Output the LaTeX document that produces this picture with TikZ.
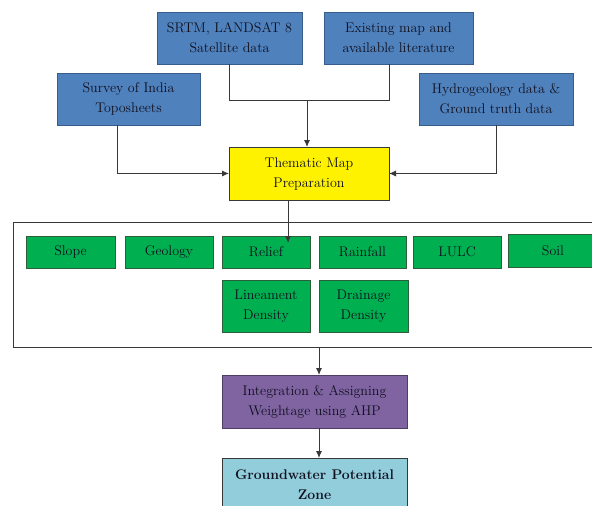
\documentclass[tikz,border=0pt]{standalone}
\usetikzlibrary{arrows.meta}
\definecolor{bluefill}{HTML}{4F81BD}
\definecolor{blueline}{HTML}{385D8A}
\definecolor{greenfill}{HTML}{00B050}
\definecolor{greenline}{HTML}{2B5E3A}
\definecolor{purplefill}{HTML}{8064A2}
\definecolor{purpleline}{HTML}{4F3D66}
\definecolor{aquafill}{HTML}{92CDDC}
\definecolor{darkline}{HTML}{383838}
\definecolor{txt}{HTML}{10101E}
\begin{document}
\begin{tikzpicture}[x=1pt,y=-1pt,
  every node/.style={font=\fontsize{14}{20}\selectfont, text=txt, align=center, inner sep=0pt, outer sep=0pt},
  bluebox/.style={draw=blueline, fill=bluefill, line width=1pt, minimum height=52},
  greenbox/.style={draw=greenline, fill=greenfill, line width=1pt, minimum height=32, minimum width=88},
  conn/.style={draw=darkline, line width=0.9pt},
  arr/.style={conn, -{Latex[length=7pt,width=6pt]}}
]
\useasboundingbox (0,0) rectangle (592,506);
\clip (0,0) rectangle (592,506);

% top sources
\node[bluebox, minimum width=145] (srtm) at (229.5,38) {SRTM, LANDSAT 8\\Satellite data};
\node[bluebox, minimum width=149] (exist) at (398.5,38) {Existing map and\\available literature};
\node[bluebox, minimum width=143] (survey) at (128.5,99) {Survey of India\\Toposheets};
\node[bluebox, minimum width=154] (hydro) at (496,99) {Hydrogeology data \&\\Ground truth data};

% thematic
\node[draw=darkline, fill=yellow, line width=1pt, minimum width=160, minimum height=53] (them) at (309,173.5) {Thematic Map\\Preparation};

% connectors to thematic
\coordinate (j) at (307,100);
\draw[conn] (srtm.south -| them.west) |- (j);
\draw[conn] (exist.south -| them.east) |- (j);
\draw[arr] (j) -- (j |- them.north);
\draw[arr] ([xshift=-11.5]survey.south) |- (them.west);
\draw[arr] (hydro.south) |- (them.east);

% frame of thematic layers
\node[draw=darkline, line width=1pt, minimum width=600, minimum height=125] (frame) at (313,284.5) {};

\node[greenbox, minimum width=89] (slope) at (70.5,252) {Slope};
\node[greenbox] (geology) at (169,252) {Geology};
\node[greenbox] (relief) at (266,252) {Relief};
\node[greenbox, minimum width=87] (rainfall) at (362.5,252) {Rainfall};
\node[greenbox] (lulc) at (457,252) {LULC};
\node[greenbox, minimum width=90, minimum height=33] (soil) at (553,250.5) {Soil};
\node[greenbox, minimum height=52] (linea) at (266,306) {Lineament\\Density};
\node[greenbox, minimum width=89, minimum height=52] (drain) at (363.5,306) {Drainage\\Density};

\coordinate (rtip) at (288,243);
\draw[arr] (them.south -| rtip) -- (rtip);

% integration and result
\node[draw=purpleline, fill=purplefill, line width=1pt, minimum width=185, minimum height=53] (integ) at (314.5,401.5) {Integration \& Assigning\\Weightage using AHP};
\node[draw=darkline, fill=aquafill, line width=1pt, minimum width=185, minimum height=53, font=\fontsize{14}{20}\selectfont\bfseries] (gw) at (314.5,484.5) {Groundwater Potential\\Zone};

\draw[arr] ([xshift=4.5]integ.north |- frame.south) -- ([xshift=4.5]integ.north);
\draw[arr] ([xshift=4.5]integ.south) -- ([xshift=4.5]gw.north);
\end{tikzpicture}
\end{document}
